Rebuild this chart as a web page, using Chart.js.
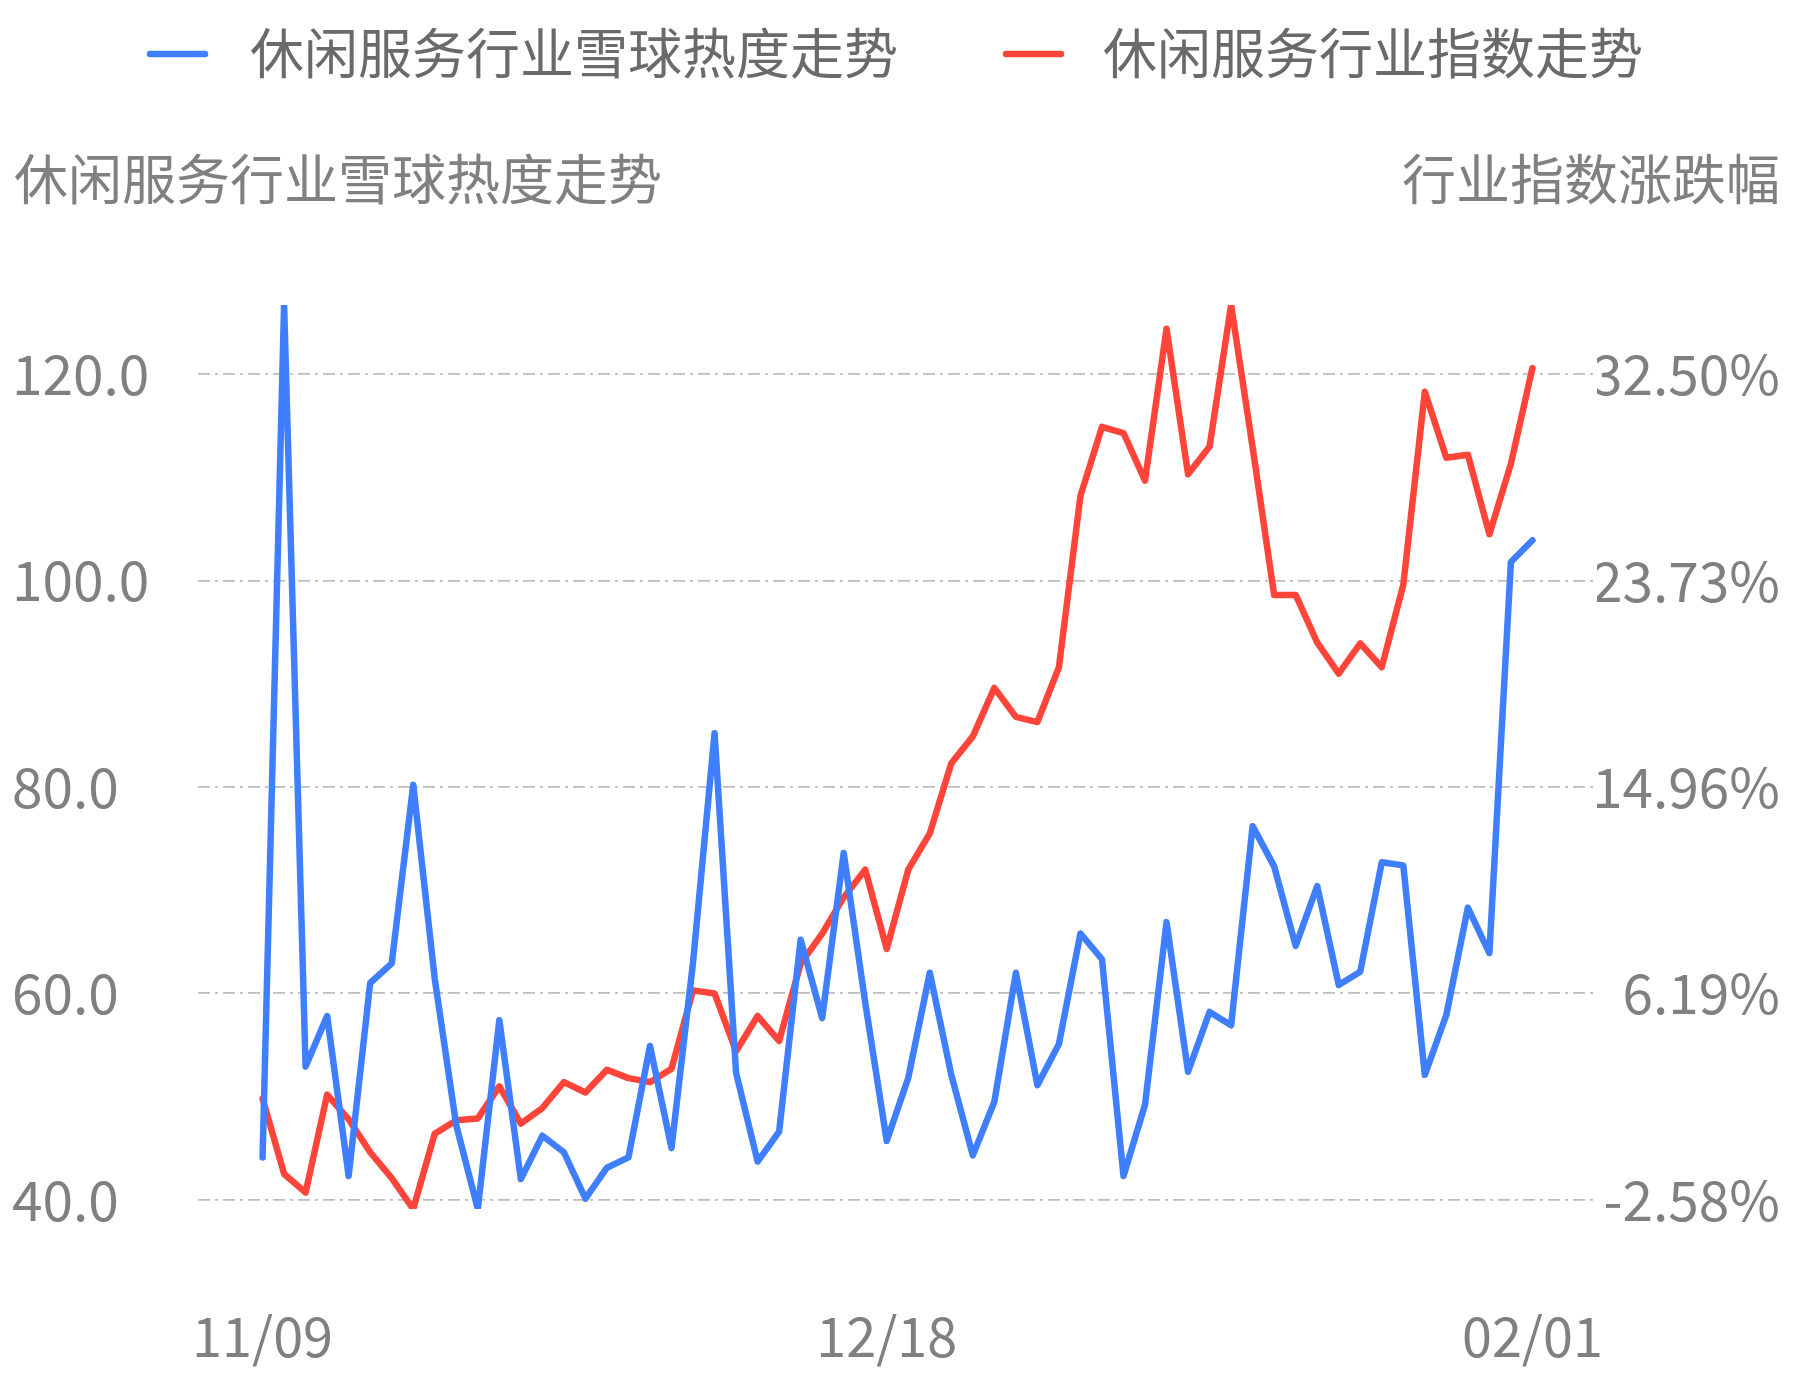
<!DOCTYPE html>
<html>
<head>
<meta charset="utf-8">
<title>休闲服务行业雪球热度走势</title>
<script src="https://cdn.jsdelivr.net/npm/chart.js@4.4.1/dist/chart.umd.min.js"></script>
<style>
  html, body { margin: 0; padding: 0; background: #fff; }
  #wrap { width: 1793px; height: 1380px; position: relative; }
</style>
</head>
<body>
<div id="wrap"><canvas id="chart"></canvas></div>
<script>
// trading days 2020-11-09 .. 2021-02-01
const dates = [
  '11/09', '11/10', '11/11', '11/12', '11/13', '11/16', '11/17', '11/18', '11/19', '11/20',
  '11/23', '11/24', '11/25', '11/26', '11/27', '11/30', '12/01', '12/02', '12/03', '12/04',
  '12/07', '12/08', '12/09', '12/10', '12/11', '12/14', '12/15', '12/16', '12/17', '12/18',
  '12/21', '12/22', '12/23', '12/24', '12/25', '12/28', '12/29', '12/30', '12/31', '01/04',
  '01/05', '01/06', '01/07', '01/08', '01/11', '01/12', '01/13', '01/14', '01/15', '01/18',
  '01/19', '01/20', '01/21', '01/22', '01/25', '01/26', '01/27', '01/28', '01/29', '02/01'
];
const shownDates = [0, 29, 59];

// 雪球热度 (left axis)
const heat = [
  44.1, 126.7, 52.9, 57.8, 42.3, 61.0, 62.9, 80.2, 61.4, 47.2,
  39.1, 57.4, 42.0, 46.2, 44.6, 40.1, 43.1, 44.1, 54.9, 45.0,
  63.0, 85.2, 52.3, 43.7, 46.6, 65.2, 57.6, 73.6, 59.1, 45.7,
  51.8, 62.0, 52.1, 44.3, 49.5, 62.0, 51.1, 55.1, 65.8, 63.3,
  42.3, 49.2, 66.9, 52.4, 58.2, 56.9, 76.2, 72.3, 64.6, 70.4,
  60.8, 62.1, 72.7, 72.4, 52.1, 57.9, 68.3, 63.9, 101.8, 103.9
];

// 行业指数涨跌幅 % (right axis)
const indexPct = [
  1.72, -1.48, -2.27, 1.89, 0.84, -0.56, -1.66, -2.97, 0.23, 0.80,
  0.88, 2.24, 0.66, 1.32, 2.42, 1.98, 2.95, 2.59, 2.42, 2.99,
  6.32, 6.19, 3.73, 5.23, 4.17, 7.46, 8.73, 10.27, 11.45, 8.08,
  11.45, 12.99, 15.97, 17.11, 19.17, 17.94, 17.72, 20.05, 27.33, 30.26,
  30.00, 27.98, 34.43, 28.25, 29.43, 35.44, 29.39, 23.12, 23.12, 21.10,
  19.78, 21.06, 20.05, 23.55, 31.75, 28.95, 29.08, 25.70, 28.69, 32.76
];

const leftTicks = [40, 60, 80, 100, 120];
const rightTicks = [-2.58, 6.19, 14.96, 23.73, 32.50];

const heatName = '休闲服务行业雪球热度走势';
const indexName = '休闲服务行业指数走势';
const leftTitle = '休闲服务行业雪球热度走势';
const rightTitle = '行业指数涨跌幅';

const BLUE = '#3f7ffe';
const RED = '#ff4539';
const FONT = '"Noto Sans CJK SC", "Noto Sans", sans-serif';

// legend + axis titles drawn on top of the chart
const overlayText = {
  id: 'overlayText',
  afterDraw(chart) {
    const ctx = chart.ctx;
    ctx.save();
    ctx.font = '54px ' + FONT;
    ctx.textBaseline = 'middle';
    ctx.lineCap = 'round';
    ctx.lineWidth = 6.5;

    const items = [
      { label: chart.data.datasets[0].label, color: chart.data.datasets[0].borderColor, x: 150, tx: 250 },
      { label: chart.data.datasets[1].label, color: chart.data.datasets[1].borderColor, x: 1006, tx: 1103 }
    ];
    items.forEach(it => {
      ctx.strokeStyle = it.color;
      ctx.beginPath();
      ctx.moveTo(it.x, 54);
      ctx.lineTo(it.x + 55, 54);
      ctx.stroke();
      ctx.fillStyle = '#6a6a6a';
      ctx.textAlign = 'left';
      ctx.fillText(it.label, it.tx, 53);
    });

    ctx.fillStyle = '#808080';
    ctx.textAlign = 'left';
    ctx.fillText(leftTitle, 14, 179);
    ctx.textAlign = 'right';
    ctx.fillText(rightTitle, 1780, 179);
    ctx.restore();
  }
};

const ctx = document.getElementById('chart').getContext('2d');
new Chart(ctx, {
  type: 'line',
  data: {
    datasets: [
      {
        label: heatName,
        data: heat.map((v, i) => ({ x: i, y: v })),
        yAxisID: 'y',
        borderColor: BLUE,
        borderWidth: 6.5,
        pointRadius: 0,
        borderJoinStyle: 'round',
        borderCapStyle: 'round',
        tension: 0,
        fill: false
      },
      {
        label: indexName,
        data: indexPct.map((v, i) => ({ x: i, y: v })),
        yAxisID: 'y1',
        borderColor: RED,
        borderWidth: 6.5,
        pointRadius: 0,
        borderJoinStyle: 'round',
        borderCapStyle: 'round',
        tension: 0,
        fill: false
      }
    ]
  },
  options: {
    responsive: true,
    maintainAspectRatio: false,
    animation: false,
    layout: { padding: { top: 305, left: 12, right: 13, bottom: 0 } },
    plugins: {
      legend: { display: false },
      tooltip: { enabled: false }
    },
    scales: {
      x: {
        type: 'linear',
        min: -3,
        max: dates.length + 2,
        grid: { display: false },
        border: { display: false },
        afterBuildTicks(scale) { scale.ticks = shownDates.map(v => ({ value: v })); },
        afterFit(scale) { scale.height = 171; },
        ticks: {
          padding: 87,
          color: '#808080',
          font: { family: FONT, size: 54 },
          maxRotation: 0,
          autoSkip: false,
          callback: v => dates[v]
        }
      },
      y: {
        position: 'left',
        min: Math.min(...heat),
        max: Math.max(...heat),
        // in v4 the grid line dash comes from border.dash
        border: { display: false, dash: [12, 5, 3, 5] },
        grid: {
          color: '#bdbdbd',
          lineWidth: 1.8,
          drawTicks: false
        },
        afterBuildTicks(scale) { scale.ticks = leftTicks.map(v => ({ value: v })); },
        afterFit(scale) { scale.width = 186; },
        ticks: {
          crossAlign: 'far',
          color: '#808080',
          font: { family: FONT, size: 55 },
          callback: v => v.toFixed(1)
        }
      },
      y1: {
        position: 'right',
        min: Math.min(...indexPct),
        max: Math.max(...indexPct),
        border: { display: false },
        grid: { display: false },
        afterBuildTicks(scale) { scale.ticks = rightTicks.map(v => ({ value: v })); },
        afterFit(scale) { scale.width = 183; },
        ticks: {
          crossAlign: 'far',
          color: '#808080',
          font: { family: FONT, size: 55 },
          callback: v => v.toFixed(2) + '%'
        }
      }
    }
  },
  plugins: [overlayText]
});
</script>
</body>
</html>
